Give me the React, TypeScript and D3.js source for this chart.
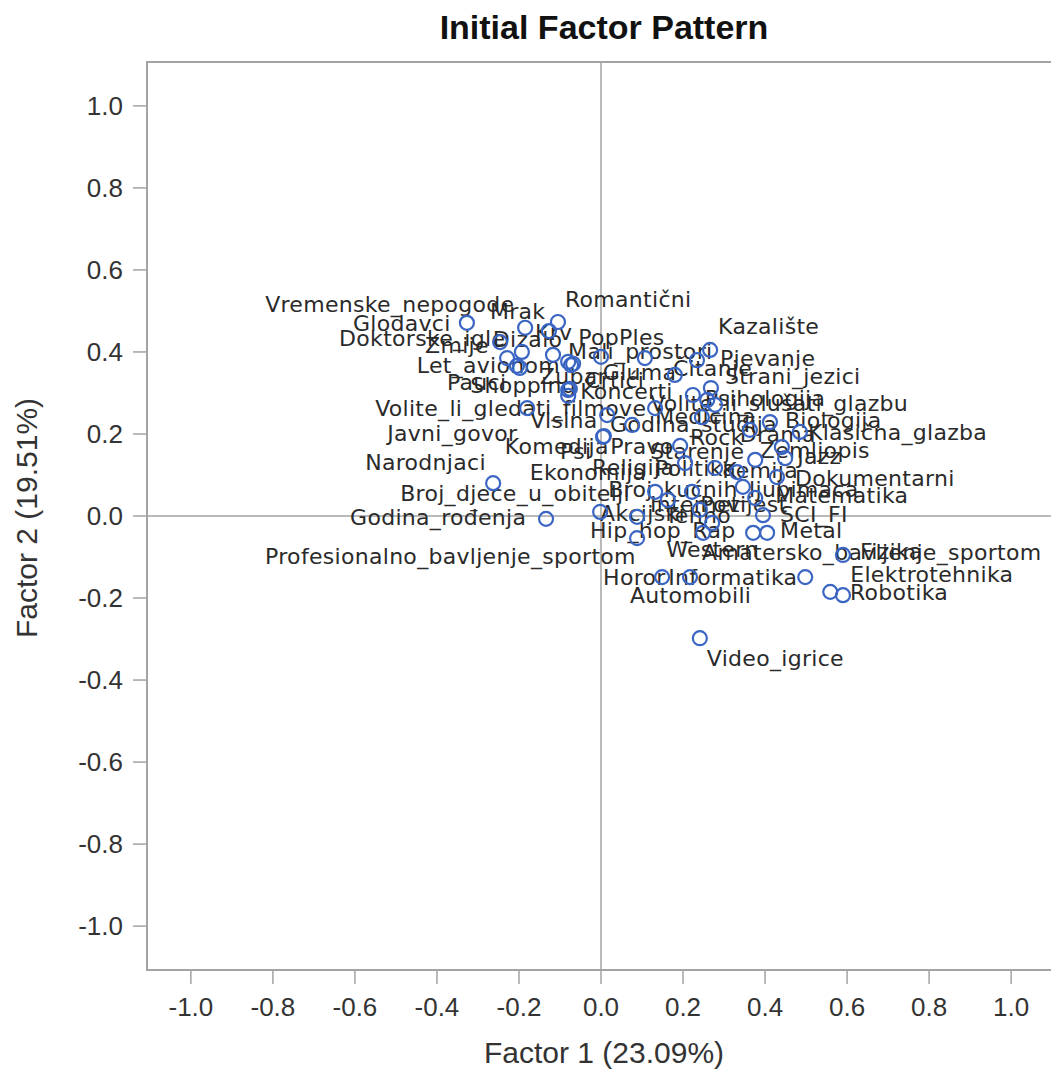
import React from 'react';
import * as d3 from 'd3';

const chartTitle = 'Initial Factor Pattern';
const xAxisTitle = 'Factor 1 (23.09%)';
const yAxisTitle = 'Factor 2 (19.51%)';
const tickValues = [-1.0, -0.8, -0.6, -0.4, -0.2, 0.0, 0.2, 0.4, 0.6, 0.8, 1.0];

const variables = [
  'Glodavci', 'Vremenske_nepogode', 'Mrak', 'Romantični', 'Doktorske_igle', 'Dizalo', 'Zmije',
  'Let_avionom', 'Krv', 'Pop', 'Mali_prostori', 'Ples', 'Čitanje', 'Pjevanje', 'Kazalište', 'Gluma',
  'Shopping', 'Koncerti', 'Javni_govor', 'Visina', 'Medicina', 'Psi', 'Volite_li_gledati_filmove',
  'Psihologija', 'Strani_jezici', 'Volite_li_slušati_glazbu', 'Godina_studija', 'Rock', 'Biologija',
  'Drama', 'Klasična_glazba', 'Zemljopis', 'Pravo', 'Starenje', 'Jazz', 'Pauci', 'Zubar', 'Crtići',
  'Komedija', 'Politika', 'Kemija', 'Dokumentarni', 'Narodnjaci', 'Godina_rođenja',
  'Broj_djece_u_obitelji', 'Akcijski', 'Profesionalno_bavljenje_sportom', 'Broj_kućnih_ljubimaca',
  'Ekonomija', 'Internet', 'Tehno', 'Povijest', 'Religija', 'Hip_hop_Rap', 'Matematika', 'SCI_FI',
  'Amatersko_bavljenje_sportom', 'Western', 'Metal', 'Fizika', 'Informatika', 'Horor', 'Automobili',
  'Elektrotehnika', 'Robotika', 'Video_igrice',
];

const factor1 = [
  -0.327, -0.185, -0.127, -0.105, -0.246, -0.193, -0.229,
  -0.198, -0.117, -0.080, -0.068, 0.000, 0.107, 0.234, 0.266, 0.180,
  -0.080, -0.080, -0.180, 0.015, 0.076, 0.005, 0.132,
  0.224, 0.268, 0.259, 0.278, 0.246, 0.412,
  0.363, 0.485, 0.441, 0.193, 0.376, 0.449, -0.205, -0.076, -0.073,
  0.007, 0.278, 0.332, 0.429, -0.263, -0.134,
  -0.002, 0.088, 0.088, 0.132,
  0.163, 0.222, 0.241, 0.271, 0.205, 0.346, 0.376, 0.395,
  0.249, 0.371, 0.405, 0.590, 0.498, 0.149, 0.217,
  0.559, 0.590, 0.241,
];

const factor2 = [
  0.471, 0.459, 0.451, 0.473, 0.424, 0.400, 0.385,
  0.361, 0.393, 0.376, 0.371, 0.388, 0.385, 0.380, 0.405, 0.344,
  0.307, 0.293, 0.263, 0.246, 0.222, 0.193, 0.263,
  0.295, 0.312, 0.283, 0.271, 0.241, 0.229,
  0.210, 0.205, 0.168, 0.171, 0.137, 0.141, 0.366, 0.310, 0.368,
  0.195, 0.117, 0.107, 0.095, 0.080, -0.007,
  0.010, -0.002, -0.054, 0.059,
  0.039, 0.059, 0.015, -0.017, 0.129, 0.071, 0.044, 0.002,
  -0.041, -0.041, -0.041, -0.095, -0.149, -0.149, -0.149,
  -0.185, -0.193, -0.298,
];

// layout only: label placement (pixel offset of label start / middle from its marker)
const labelOffsets: Record<string, [number, number]> = {
  Glodavci: [-114, 1], Vremenske_nepogode: [-260, -23], Mrak: [-59, -20], 'Romantični': [7, -23],
  Doktorske_igle: [-161, -4], Dizalo: [-29, -12], Zmije: [-82, -13], Let_avionom: [-103, -2],
  Krv: [-18, -22], Pop: [10, -24], Mali_prostori: [-5, -12], Ples: [18, -19], 'Čitanje': [28, 10],
  Pjevanje: [23, -2], 'Kazalište': [8, -23], Gluma: [-72, -2], Shopping: [-98, -5], Koncerti: [12, -4],
  Javni_govor: [-140, 25], Visina: [-77, 5], Medicina: [23, -8], Psi: [-43, 15],
  Volite_li_gledati_filmove: [-280, 0], Psihologija: [12, 3], Strani_jezici: [14, -12],
  'Volite_li_slušati_glazbu': [-57, 4], Godina_studija: [-105, 20], Rock: [-12, 20], Biologija: [15, -2],
  Drama: [-10, 5], 'Klasična_glazba': [8, 1], Zemljopis: [-22, 3], Pravo: [-70, 1], Starenje: [-105, -8],
  Jazz: [12, -2], Pauci: [-70, 17], Zubar: [-30, -12], 'Crtići': [14, 15], Komedija: [-99, 10],
  Politika: [-60, 0], Kemija: [-15, -2], Dokumentarni: [18, 1], Narodnjaci: [-128, -21],
  'Godina_rođenja': [-196, -1], Broj_djece_u_obitelji: [-200, -18], Akcijski: [-37, -3],
  Profesionalno_bavljenje_sportom: [-372, 18], 'Broj_kućnih_ljubimaca': [-47, -2], Ekonomija: [-138, -28],
  Internet: [-42, 13], Tehno: [-35, 6], Povijest: [-12, -18], Religija: [-93, 4], Hip_hop_Rap: [-153, 44],
  Matematika: [20, -2], SCI_FI: [17, -1], Amatersko_bavljenje_sportom: [-1, 20], Western: [-87, 17],
  Metal: [13, -2], Fizika: [17, -3], Informatika: [-137, 0], Horor: [-59, 0], Automobili: [-60, 18],
  Elektrotehnika: [20, -17], Robotika: [7, -3], Video_igrice: [7, 20],
};

const W = 1051;
const H = 1074;
const plot = { left: 147, right: 1055, top: 62, bottom: 970 };
const axisFont = '"Liberation Sans", Arial, sans-serif';
const labelFont = '"DejaVu Sans", Verdana, sans-serif';
const gridColor = '#a3a3a3';
const markerColor = '#3a65c3';

export default function App() {
  const x = d3.scaleLinear().domain([-1.107, 1.107]).range([plot.left, plot.right]);
  const y = d3.scaleLinear().domain([-1.107, 1.107]).range([plot.bottom, plot.top]);
  const fmt = (v: number) => d3.format('.1f')(v).replace('\u2212', '-');
  const points = variables.map((name, i) => ({ name, fx: factor1[i], fy: factor2[i] }));

  return (
    <svg width={W} height={H} style={{ position: 'absolute', left: 0, top: 0, background: '#fff' }}>
      <rect x={0} y={0} width={W} height={H} fill="#fff" />
      <text x={604} y={39} textAnchor="middle" fontFamily={axisFont} fontWeight="bold" fontSize={34} fill="#111">
        {chartTitle}
      </text>

      {/* reference lines */}
      <line x1={x(0)} x2={x(0)} y1={plot.top} y2={plot.bottom} stroke={gridColor} strokeWidth={1.5} />
      <line x1={plot.left} x2={plot.right} y1={y(0)} y2={y(0)} stroke={gridColor} strokeWidth={1.5} />

      {/* frame */}
      <rect x={plot.left} y={plot.top} width={plot.right - plot.left} height={plot.bottom - plot.top}
        fill="none" stroke={gridColor} strokeWidth={2} />

      {/* y axis */}
      {tickValues.map((t) => (
        <g key={'y' + t}>
          <line x1={plot.left - 14} x2={plot.left} y1={y(t)} y2={y(t)} stroke={gridColor} strokeWidth={1.5} />
          <text x={123} y={y(t)} dy="0.35em" textAnchor="end" fontFamily={axisFont} fontSize={26} fill="#333">
            {fmt(t)}
          </text>
        </g>
      ))}
      {/* x axis */}
      {tickValues.map((t) => (
        <g key={'x' + t}>
          <line x1={x(t)} x2={x(t)} y1={plot.bottom} y2={plot.bottom + 14} stroke={gridColor} strokeWidth={1.5} />
          <text x={x(t)} y={1016} textAnchor="middle" fontFamily={axisFont} fontSize={26} fill="#333">
            {fmt(t)}
          </text>
        </g>
      ))}
      <text x={604} y={1063} textAnchor="middle" fontFamily={axisFont} fontSize={30} fill="#333">
        {xAxisTitle}
      </text>
      <text transform={`translate(37, ${518}) rotate(-90)`} textAnchor="middle" fontFamily={axisFont} fontSize={30} fill="#333">
        {yAxisTitle}
      </text>

      {/* labels */}
      {points.map((p) => {
        const off = labelOffsets[p.name] || [8, -12];
        return (
          <text key={'l' + p.name} x={x(p.fx) + off[0]} y={y(p.fy) + off[1]} dominantBaseline="central"
            fontFamily={labelFont} fontSize={22} letterSpacing={0.3} fill="#2a2a2a">
            {p.name}
          </text>
        );
      })}
      {/* markers */}
      {points.map((p) => (
        <circle key={'c' + p.name} cx={x(p.fx)} cy={y(p.fy)} r={7} fill="none" stroke={markerColor} strokeWidth={2.2} />
      ))}
    </svg>
  );
}
